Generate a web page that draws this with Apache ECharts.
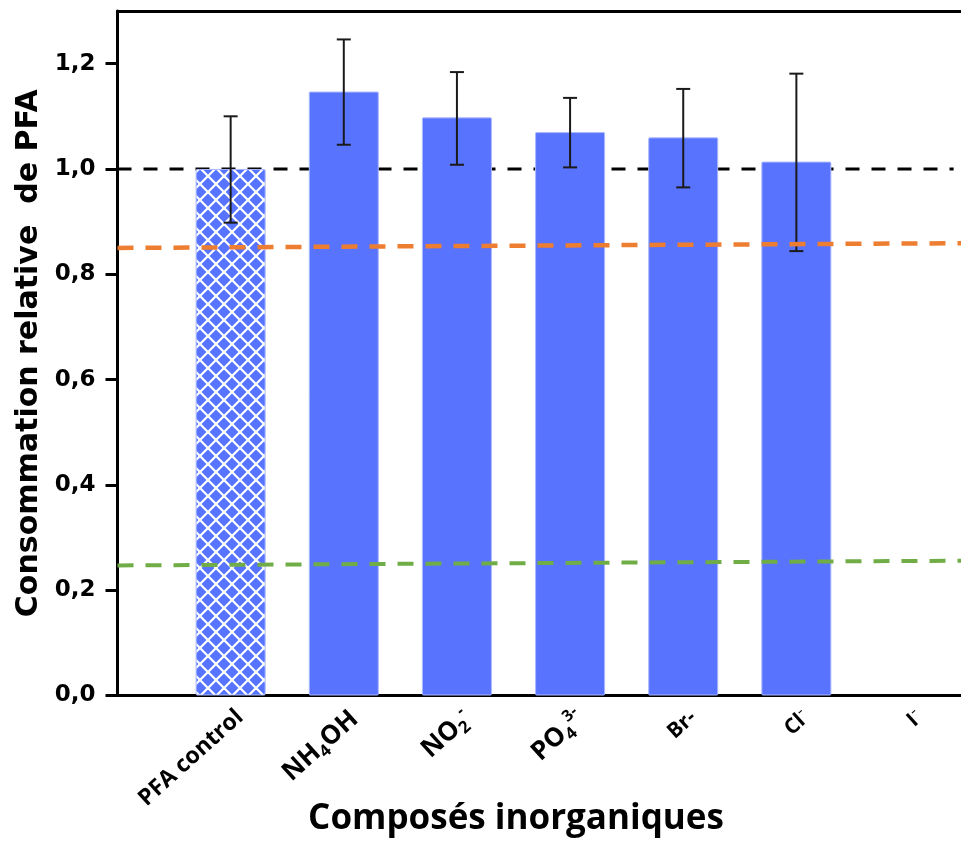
<!DOCTYPE html>
<html>
<head>
<meta charset="utf-8">
<script src="https://cdn.jsdelivr.net/npm/echarts@6/dist/echarts.min.js"></script>
<style>
html,body{margin:0;padding:0;background:#fff;}
#chart{width:961px;height:848px;}
</style>
</head>
<body>
<div id="chart"></div>
<script>
// ---- data ----
var categories = ['PFA control', 'NH4OH', 'NO2-', 'PO4 3-', 'Br-', 'Cl-', 'I-'];
var categoryLabels = [
  '{s|PFA control}',
  '{b|NH}{sub|4}{b|OH}',
  '{b|NO}{sub|2}{sup|-}',
  '{b|PO}{sub|4}{sup|3-}',
  '{m|Br-}',
  '{m|Cl}{sup2|-}',
  '{m|I}{sup2|-}'
];
var values  = [1.000, 1.147, 1.098, 1.070, 1.060, 1.014, null];
var errLow  = [0.898, 1.046, 1.008, 1.003, 0.965, 0.844, null];
var errHigh = [1.100, 1.246, 1.184, 1.135, 1.152, 1.181, null];
var yTicks = [0, 0.2, 0.4, 0.6, 0.8, 1.0, 1.2];
var xMax = 7.455;
var refBlack  = [[0, 1.000], [7.39, 1.000]];
var refOrange = [[0, 0.850], [7.455, 0.859]];
var refGreen  = [[0, 0.247], [7.455, 0.256]];

// ---- hatch pattern for control bar ----
function makePattern() {
  var c = document.createElement('canvas');
  var s = 16;
  c.width = s; c.height = s;
  var g = c.getContext('2d');
  g.fillStyle = '#5873fe';
  g.fillRect(0, 0, s, s);
  g.strokeStyle = '#ffffff';
  g.lineWidth = 2.2;
  for (var k = -1; k <= 1; k++) {
    g.beginPath(); g.moveTo(-2 + k * s, -2); g.lineTo(s + 2 + k * s, s + 2); g.stroke();
    g.beginPath(); g.moveTo(s + 2 + k * s, -2); g.lineTo(-2 + k * s, s + 2); g.stroke();
  }
  return c;
}
var pattern = makePattern();

var barData = values.map(function (v, i) {
  var item = { value: [i + 1, v] };
  if (i === 0) item.itemStyle = { color: { image: pattern, repeat: 'repeat' } };
  return item;
});
var errData = values.map(function (v, i) { return [i + 1, errLow[i], errHigh[i]]; })
  .filter(function (d) { return d[1] != null; });

var lblFont = 'Open Sans';
var chart = echarts.init(document.getElementById('chart'), null, { renderer: 'canvas' });
chart.setOption({
  animation: false,
  backgroundColor: '#fff',
  grid: { left: 117.5, top: 11, right: 0, height: 684.5 },
  title: {
    text: 'Composés inorganiques',
    left: 511, top: 797, textAlign: 'center',
    textStyle: { fontFamily: lblFont, fontWeight: 'bold', fontSize: 35, color: '#000' }
  },
  xAxis: [{
    type: 'value', min: 0, max: xMax, interval: 1,
    axisLine: { show: true, lineStyle: { color: '#000', width: 3 } },
    axisTick: { show: false },
    splitLine: { show: false },
    axisLabel: {
      rotate: 42, margin: 8, align: 'right', verticalAlign: 'top',
      showMaxLabel: false,
      formatter: function (v) {
        return (v >= 1 && v <= 7 && Math.round(v) === v) ? categoryLabels[v - 1] : '';
      },
      rich: {
        s: { fontFamily: lblFont, fontWeight: 'bold', fontSize: 23, color: '#000', lineHeight: 28 },
        b: { fontFamily: lblFont, fontWeight: 'bold', fontSize: 26, color: '#000', lineHeight: 32 },
        m: { fontFamily: lblFont, fontWeight: 'bold', fontSize: 21, color: '#000', lineHeight: 30 },
        sub: { fontFamily: lblFont, fontWeight: 'bold', fontSize: 17, color: '#000', lineHeight: 17, verticalAlign: 'bottom' },
        sup: { fontFamily: lblFont, fontWeight: 'bold', fontSize: 16, color: '#000', lineHeight: 16, verticalAlign: 'top' },
        sup2: { fontFamily: lblFont, fontWeight: 'normal', fontSize: 17, color: '#000', lineHeight: 16, verticalAlign: 'top' }
      }
    }
  }, {
    type: 'value', min: 0, max: xMax, position: 'top',
    axisLine: { show: true, lineStyle: { color: '#000', width: 3 } },
    axisTick: { show: false }, axisLabel: { show: false }, splitLine: { show: false }
  }],
  yAxis: {
    type: 'value', min: 0, max: 1.3,
    name: 'Consommation relative  de PFA',
    nameLocation: 'middle', nameGap: 70, nameRotate: 90,
    nameTextStyle: { fontFamily: 'DejaVu Sans', fontWeight: 'bold', fontSize: 30, color: '#000' },
    axisLine: { show: true, lineStyle: { color: '#000', width: 3 } },
    axisTick: { show: true, length: 12, lineStyle: { color: '#000', width: 3 }, customValues: yTicks },
    splitLine: { show: false },
    axisLabel: {
      margin: 22, customValues: yTicks,
      fontFamily: 'DejaVu Sans', fontWeight: 'bold', fontSize: 23, color: '#000',
      formatter: function (v) { return v.toFixed(1).replace('.', ','); }
    }
  },
  series: [
    {
      type: 'line', data: refBlack, symbol: 'none', z: 1, silent: true,
      lineStyle: { color: '#000', width: 3, type: [14, 12] }
    },
    {
      type: 'bar', data: barData, barWidth: 70, z: 2,
      itemStyle: { color: '#5873fe', borderColor: '#aab8ff', borderWidth: 1, borderRadius: 1 }
    },
    {
      type: 'custom', data: errData, z: 3,
      renderItem: function (params, api) {
        var x = api.value(0);
        var lo = api.coord([x, api.value(1)]);
        var hi = api.coord([x, api.value(2)]);
        var hw = 7;
        var st = { stroke: '#1a1a1a', lineWidth: 2 };
        return {
          type: 'group',
          children: [
            { type: 'line', shape: { x1: lo[0], y1: lo[1], x2: hi[0], y2: hi[1] }, style: st },
            { type: 'line', shape: { x1: lo[0] - hw, y1: lo[1], x2: lo[0] + hw, y2: lo[1] }, style: st },
            { type: 'line', shape: { x1: hi[0] - hw, y1: hi[1], x2: hi[0] + hw, y2: hi[1] }, style: st }
          ]
        };
      }
    },
    {
      type: 'line', data: refOrange, symbol: 'none', z: 4, silent: true,
      lineStyle: { color: '#ed7d31', width: 4.5, type: [16, 12] }
    },
    {
      type: 'line', data: refGreen, symbol: 'none', z: 4, silent: true,
      lineStyle: { color: '#70ad47', width: 4, type: [16, 12] }
    }
  ]
});
</script>
</body>
</html>
